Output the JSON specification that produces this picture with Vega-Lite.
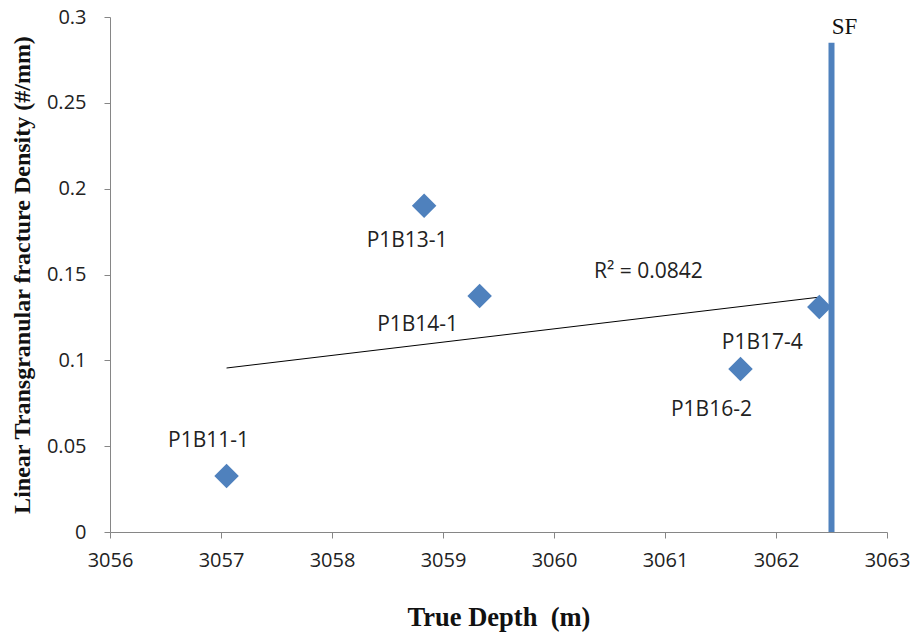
{
  "$schema": "https://vega.github.io/schema/vega-lite/v6.json",
  "width": 777,
  "height": 515,
  "autosize": "none",
  "padding": {"left": 110, "top": 17, "right": 34, "bottom": 103},
  "background": "white",
  "config": {"view": {"stroke": null}},
  "datasets": {
    "pts": [
      {"name": "P1B11-1", "depth": 3057.05, "density": 0.0326},
      {"name": "P1B13-1", "depth": 3058.83, "density": 0.190},
      {"name": "P1B14-1", "depth": 3059.33, "density": 0.1375},
      {"name": "P1B16-2", "depth": 3061.68, "density": 0.095},
      {"name": "P1B17-4", "depth": 3062.39, "density": 0.131}
    ],
    "sf": [{"depth": 3062.5, "top": 0.285, "bottom": 0, "label": "SF"}],
    "r2": [{"depth": 3060.85, "density": 0.1515, "label": "R² = 0.0842"}]
  },
  "layer": [
    {
      "data": {"name": "pts"},
      "transform": [{"regression": "density", "on": "depth"}],
      "mark": {"type": "line", "color": "black", "strokeWidth": 1},
      "encoding": {
        "x": {
          "field": "depth", "type": "quantitative",
          "scale": {"domain": [3056, 3063], "nice": false, "zero": false},
          "axis": {
            "title": "True Depth\u00a0\u00a0(m)", "grid": false, "values": [3056,3057,3058,3059,3060,3061,3062,3063],
            "format": "d", "labelOverlap": false, "labelFlush": false, "domainColor": "#868686", "tickColor": "#868686", "tickSize": 6,
            "labelFont": "Open Sans", "labelFontSize": 20, "labelColor": "#222222", "labelPadding": 12,
            "titleFont": "Liberation Serif", "titleFontSize": 26.5, "titleFontWeight": "bold", "titleColor": "#111111", "titlePadding": 34
          }
        },
        "y": {
          "field": "density", "type": "quantitative",
          "scale": {"domain": [0, 0.3], "nice": false},
          "axis": {
            "title": "Linear Transgranular fracture Density (#/mm)", "grid": false,
            "values": [0, 0.05, 0.1, 0.15, 0.2, 0.25, 0.3], "format": "~f", "labelOverlap": false, "labelFlush": false,
            "domainColor": "#868686", "tickColor": "#868686", "tickSize": 6,
            "labelFont": "Open Sans", "labelFontSize": 20, "labelColor": "#222222", "labelPadding": 18,
            "titleFont": "Liberation Serif", "titleFontSize": 24, "titleFontWeight": "bold", "titleColor": "#111111", "titlePadding": 12
          }
        }
      }
    },
    {
      "data": {"name": "sf"},
      "mark": {"type": "rule", "color": "#4F81BD", "strokeWidth": 6},
      "encoding": {
        "x": {"field": "depth", "type": "quantitative"},
        "y": {"field": "bottom", "type": "quantitative"},
        "y2": {"field": "top"}
      }
    },
    {
      "data": {"name": "sf"},
      "mark": {"type": "text", "font": "Liberation Serif", "fontSize": 23, "color": "#111111", "baseline": "bottom", "align": "center", "dy": -4, "dx": 13},
      "encoding": {
        "x": {"field": "depth", "type": "quantitative"},
        "y": {"field": "top", "type": "quantitative"},
        "text": {"field": "label"}
      }
    },
    {
      "data": {"name": "pts"},
      "mark": {"type": "point", "shape": "diamond", "filled": true, "size": 600, "color": "#4F81BD", "opacity": 1},
      "encoding": {
        "x": {"field": "depth", "type": "quantitative"},
        "y": {"field": "density", "type": "quantitative"}
      }
    },
    {
      "data": {"name": "pts"},
      "transform": [{"filter": "datum.name === 'P1B11-1'"}],
      "mark": {"type": "text", "font": "Open Sans", "fontSize": 21, "color": "#222222", "dx": -18, "dy": -35},
      "encoding": {"x": {"field": "depth", "type": "quantitative"}, "y": {"field": "density", "type": "quantitative"}, "text": {"field": "name"}}
    },
    {
      "data": {"name": "pts"},
      "transform": [{"filter": "datum.name === 'P1B13-1'"}],
      "mark": {"type": "text", "font": "Open Sans", "fontSize": 21, "color": "#222222", "dx": -17, "dy": 35},
      "encoding": {"x": {"field": "depth", "type": "quantitative"}, "y": {"field": "density", "type": "quantitative"}, "text": {"field": "name"}}
    },
    {
      "data": {"name": "pts"},
      "transform": [{"filter": "datum.name === 'P1B14-1'"}],
      "mark": {"type": "text", "font": "Open Sans", "fontSize": 21, "color": "#222222", "dx": -62, "dy": 29},
      "encoding": {"x": {"field": "depth", "type": "quantitative"}, "y": {"field": "density", "type": "quantitative"}, "text": {"field": "name"}}
    },
    {
      "data": {"name": "pts"},
      "transform": [{"filter": "datum.name === 'P1B16-2'"}],
      "mark": {"type": "text", "font": "Open Sans", "fontSize": 21, "color": "#222222", "dx": -29, "dy": 41},
      "encoding": {"x": {"field": "depth", "type": "quantitative"}, "y": {"field": "density", "type": "quantitative"}, "text": {"field": "name"}}
    },
    {
      "data": {"name": "pts"},
      "transform": [{"filter": "datum.name === 'P1B17-4'"}],
      "mark": {"type": "text", "font": "Open Sans", "fontSize": 21, "color": "#222222", "dx": -57, "dy": 36},
      "encoding": {"x": {"field": "depth", "type": "quantitative"}, "y": {"field": "density", "type": "quantitative"}, "text": {"field": "name"}}
    },
    {
      "data": {"name": "r2"},
      "mark": {"type": "text", "font": "Open Sans", "fontSize": 21, "color": "#222222"},
      "encoding": {"x": {"field": "depth", "type": "quantitative"}, "y": {"field": "density", "type": "quantitative"}, "text": {"field": "label"}}
    }
  ]
}
